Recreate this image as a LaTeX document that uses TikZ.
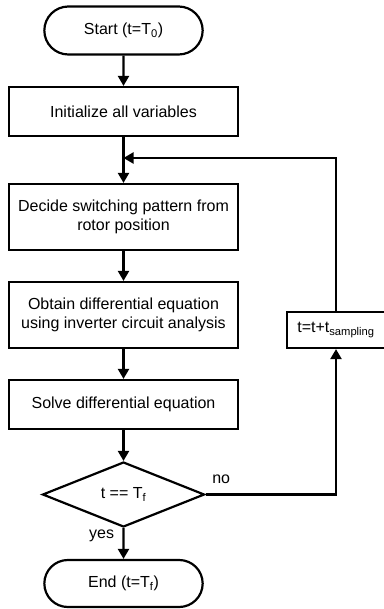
\documentclass[tikz,border=0pt]{standalone}
\usepackage{fontspec}
\setmainfont{Liberation Sans}
\usetikzlibrary{shapes.geometric,shapes.misc,arrows.meta}

\begin{document}
\begin{tikzpicture}[
        terminal/.style={
        rounded rectangle,
        minimum width=165pt,
        minimum height=48pt,
        draw
      },
      process/.style={
        rectangle,
        minimum width=229pt,
        align=center,
        draw
      },
      decision/.style={
        diamond,
        aspect=2.5,
        minimum width=162pt,
        minimum height=65pt,
        inner sep=0pt,
        draw
      },
      x=1pt, y=-1pt,
      line width=2.2pt,
      font=\fontsize{16}{19}\selectfont,
      >={Triangle[width=11pt,length=10pt]}
    ]

    \useasboundingbox (0, 0) rectangle (383, 609);

    \node[terminal] (start) at (123.5, 30.5) {Start (t=T\textsubscript{0})};
    \node[process, minimum height=49pt] (init) at (123.5, 111.5) {Initialize all variables};
    \node[process, minimum height=66pt] (decide) at (123.5, 217) {Decide switching pattern from\\rotor position};
    \node[process, minimum height=66pt] (obtain) at (123.5, 315) {Obtain differential equation\\using inverter circuit analysis};
    \node[process, minimum height=49pt] (solve) at (123.5, 404.5) {Solve differential equation};

    \node[decision] (check) at (123.5, 494.5) {t == T\textsubscript{f}};
    \node[terminal, minimum height=47pt] (stop) at (123.5, 583.5) {End (t=T\textsubscript{f})};

    \node[rectangle, draw, minimum width=98pt, minimum height=36pt] (update) at (336, 330) {t=t+t\textsubscript{sampling}};

    \coordinate (join) at (123.5, 158);

    \draw[->] (start) -- (init);
    \draw[->] (init) -- (decide);
    \draw[->] (decide) -- (obtain);
    \draw[->] (obtain) -- (solve);
    \draw[->] (solve) -- (check);

    \draw[->] (check) -- (stop) node[pos=0.25, left=5pt] {yes};
    \draw[->] (check.east) -| (update) node[pos=0.06, above=6pt] {no};
    \draw[->] (update) |- (join);

  \end{tikzpicture}
\end{document}
